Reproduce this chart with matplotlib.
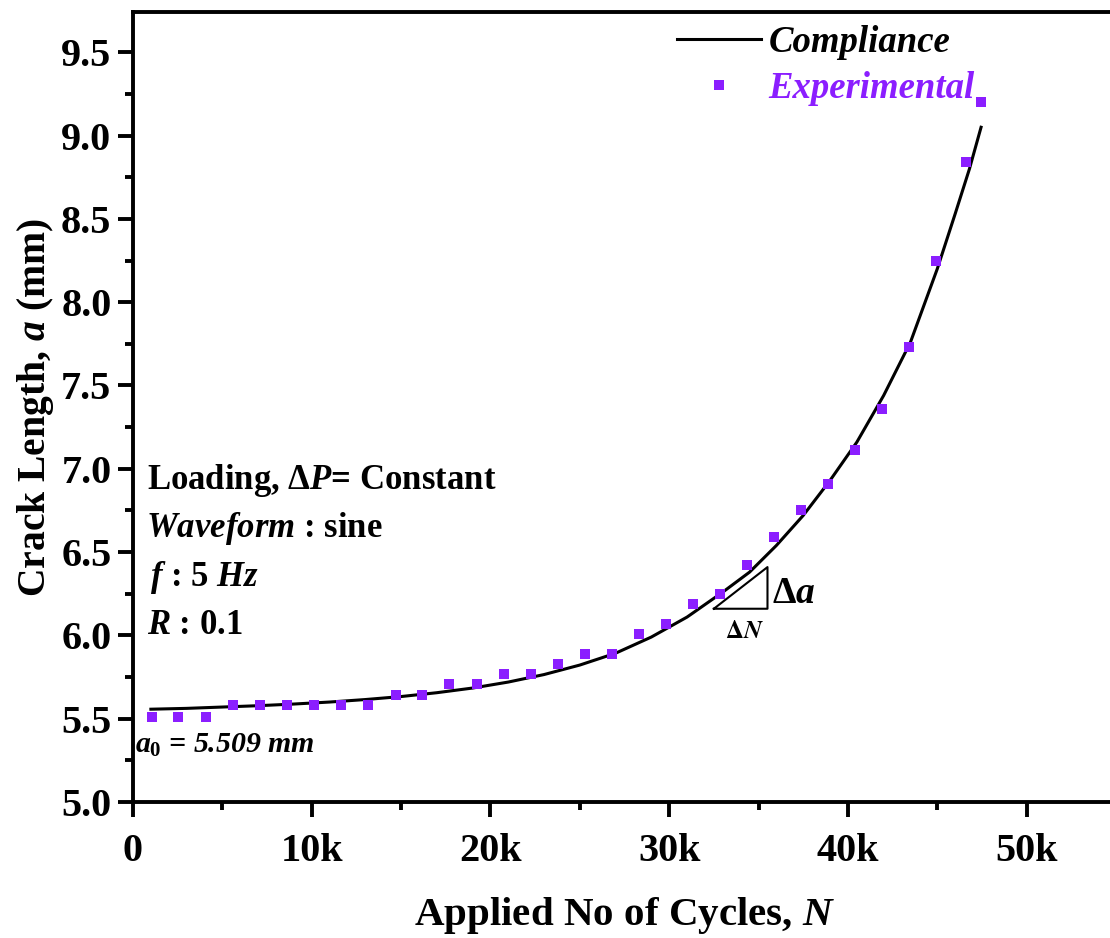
import matplotlib
matplotlib.use("Agg")
import matplotlib.pyplot as plt
from matplotlib.ticker import MultipleLocator, FuncFormatter

# ---- data ----
exp_N = [1050, 2520, 4070, 5600, 7110, 8600, 10130, 11640, 13130, 14700, 16170,
         17680, 19230, 20750, 22260, 23770, 25290, 26800, 28310, 29820, 31340,
         32850, 34360, 35880, 37390, 38900, 40410, 41930, 43440, 44950, 46600, 47450]
exp_a = [5.51, 5.51, 5.51, 5.58, 5.58, 5.58, 5.58, 5.58, 5.58, 5.64, 5.64,
         5.71, 5.71, 5.77, 5.77, 5.83, 5.89, 5.89, 6.01, 6.07, 6.19,
         6.25, 6.42, 6.59, 6.75, 6.91, 7.11, 7.36, 7.73, 8.25, 8.84, 9.20]

comp_N = [1000, 3000, 5000, 7000, 9000, 11000, 13000, 15000, 17000, 19000, 21000,
          23000, 25000, 27000, 29000, 31000, 33000, 34500, 36000, 37500, 39000,
          40500, 42000, 43500, 45000, 46000, 46800, 47450]
comp_a = [5.557, 5.562, 5.570, 5.578, 5.588, 5.600, 5.615, 5.633, 5.656, 5.684, 5.720,
          5.765, 5.822, 5.893, 5.990, 6.110, 6.260, 6.380, 6.540, 6.720, 6.930,
          7.160, 7.440, 7.760, 8.200, 8.530, 8.800, 9.050]

x_ticks = [0, 10000, 20000, 30000, 40000, 50000]
x_ticklabels = ["0", "10k", "20k", "30k", "40k", "50k"]

PURPLE = "#8B1EFF"
SERIF = "Liberation Serif"

plt.rcParams["font.family"] = SERIF
plt.rcParams["font.weight"] = "bold"
plt.rcParams["mathtext.fontset"] = "custom"
plt.rcParams["mathtext.rm"] = "Liberation Serif:bold"
plt.rcParams["mathtext.bf"] = "Liberation Serif:bold"
plt.rcParams["mathtext.it"] = "Liberation Serif:italic:bold"
plt.rcParams["mathtext.default"] = "it"

W, H = 1110, 938
fig = plt.figure(figsize=(W / 100, H / 100), dpi=100)
x0, x1 = 133, 1116
y0, y1 = 802, 12.3
ax = fig.add_axes([x0 / W, (H - y0) / H, (x1 - x0) / W, (y0 - y1) / H])

ax.plot(comp_N, comp_a, color="black", lw=2.2, label="Compliance", zorder=3)
ax.plot(exp_N, exp_a, ls="none", marker="s", ms=6.5, color=PURPLE,
        markeredgewidth=0, label="Experimental", zorder=4)

ax.set_xlim(0, 55000)
ax.set_ylim(5.0, 9.74)

for s in ax.spines.values():
    s.set_linewidth(2.8)

ax.set_xticks(x_ticks)
ax.set_xticklabels(x_ticklabels)
ax.xaxis.set_minor_locator(MultipleLocator(5000))
ax.yaxis.set_major_locator(MultipleLocator(0.5))
ax.yaxis.set_minor_locator(MultipleLocator(0.25))
ax.yaxis.set_major_formatter(FuncFormatter(lambda v, p: f"{v:.1f}"))
ax.tick_params(which="major", direction="out", length=10.5, width=2.8,
               labelsize=29, pad=5)
ax.tick_params(which="minor", direction="out", length=5.5, width=2.8)
ax.tick_params(axis="x", which="major", pad=12)
ax.tick_params(top=False, right=False, which="both")
for lab in ax.get_xticklabels() + ax.get_yticklabels():
    lab.set_fontweight("bold")

ax.set_xlabel("Applied No of Cycles, $N$", fontsize=29.5, fontweight="bold", labelpad=18)
ax.set_ylabel("Crack Length, $a$ (mm)", fontsize=28.5, fontweight="bold", labelpad=4)

leg = ax.legend(loc="upper left", bbox_to_anchor=((662 - x0) / (x1 - x0), 1.0 + 2 / (y0 - y1)),
                frameon=False, prop={"family": SERIF, "weight": "bold", "style": "italic", "size": 26.5},
                handlelength=2.3, handletextpad=0.2, labelspacing=0.3, borderaxespad=0)
leg.get_texts()[1].set_color(PURPLE)

# annotations
txt_kw = dict(fontsize=25, fontweight="bold", va="center", ha="left", transform=ax.transData)
ax.text(780, 6.93, r"Loading, $\mathrm{\Delta}P$= Constant", **txt_kw)
ax.text(750, 6.64, r"$Waveform$ : sine", **txt_kw)
ax.text(950, 6.35, r"$f$ : 5 $Hz$", **txt_kw)
ax.text(760, 6.06, r"$R$ : 0.1", **txt_kw)
ax.text(120, 5.34, r"$a_0$ = 5.509 mm", fontsize=21.5, fontweight="bold", style="italic",
        va="center", ha="left", family=SERIF)

# slope triangle
tri_N = [32500, 35500, 35500, 32500]
tri_a = [6.16, 6.41, 6.16, 6.16]
ax.plot(tri_N, tri_a, color="black", lw=1.5, zorder=2)
ax.text(35750, 6.25, r"$\mathrm{\Delta}a$", fontsize=27, fontweight="bold", va="center", ha="left")
ax.text(33100, 6.02, r"$\Delta N$", fontsize=18, fontweight="normal", va="center", ha="left",
        math_fontfamily="stix")

fig.savefig("out.png", dpi=100)
